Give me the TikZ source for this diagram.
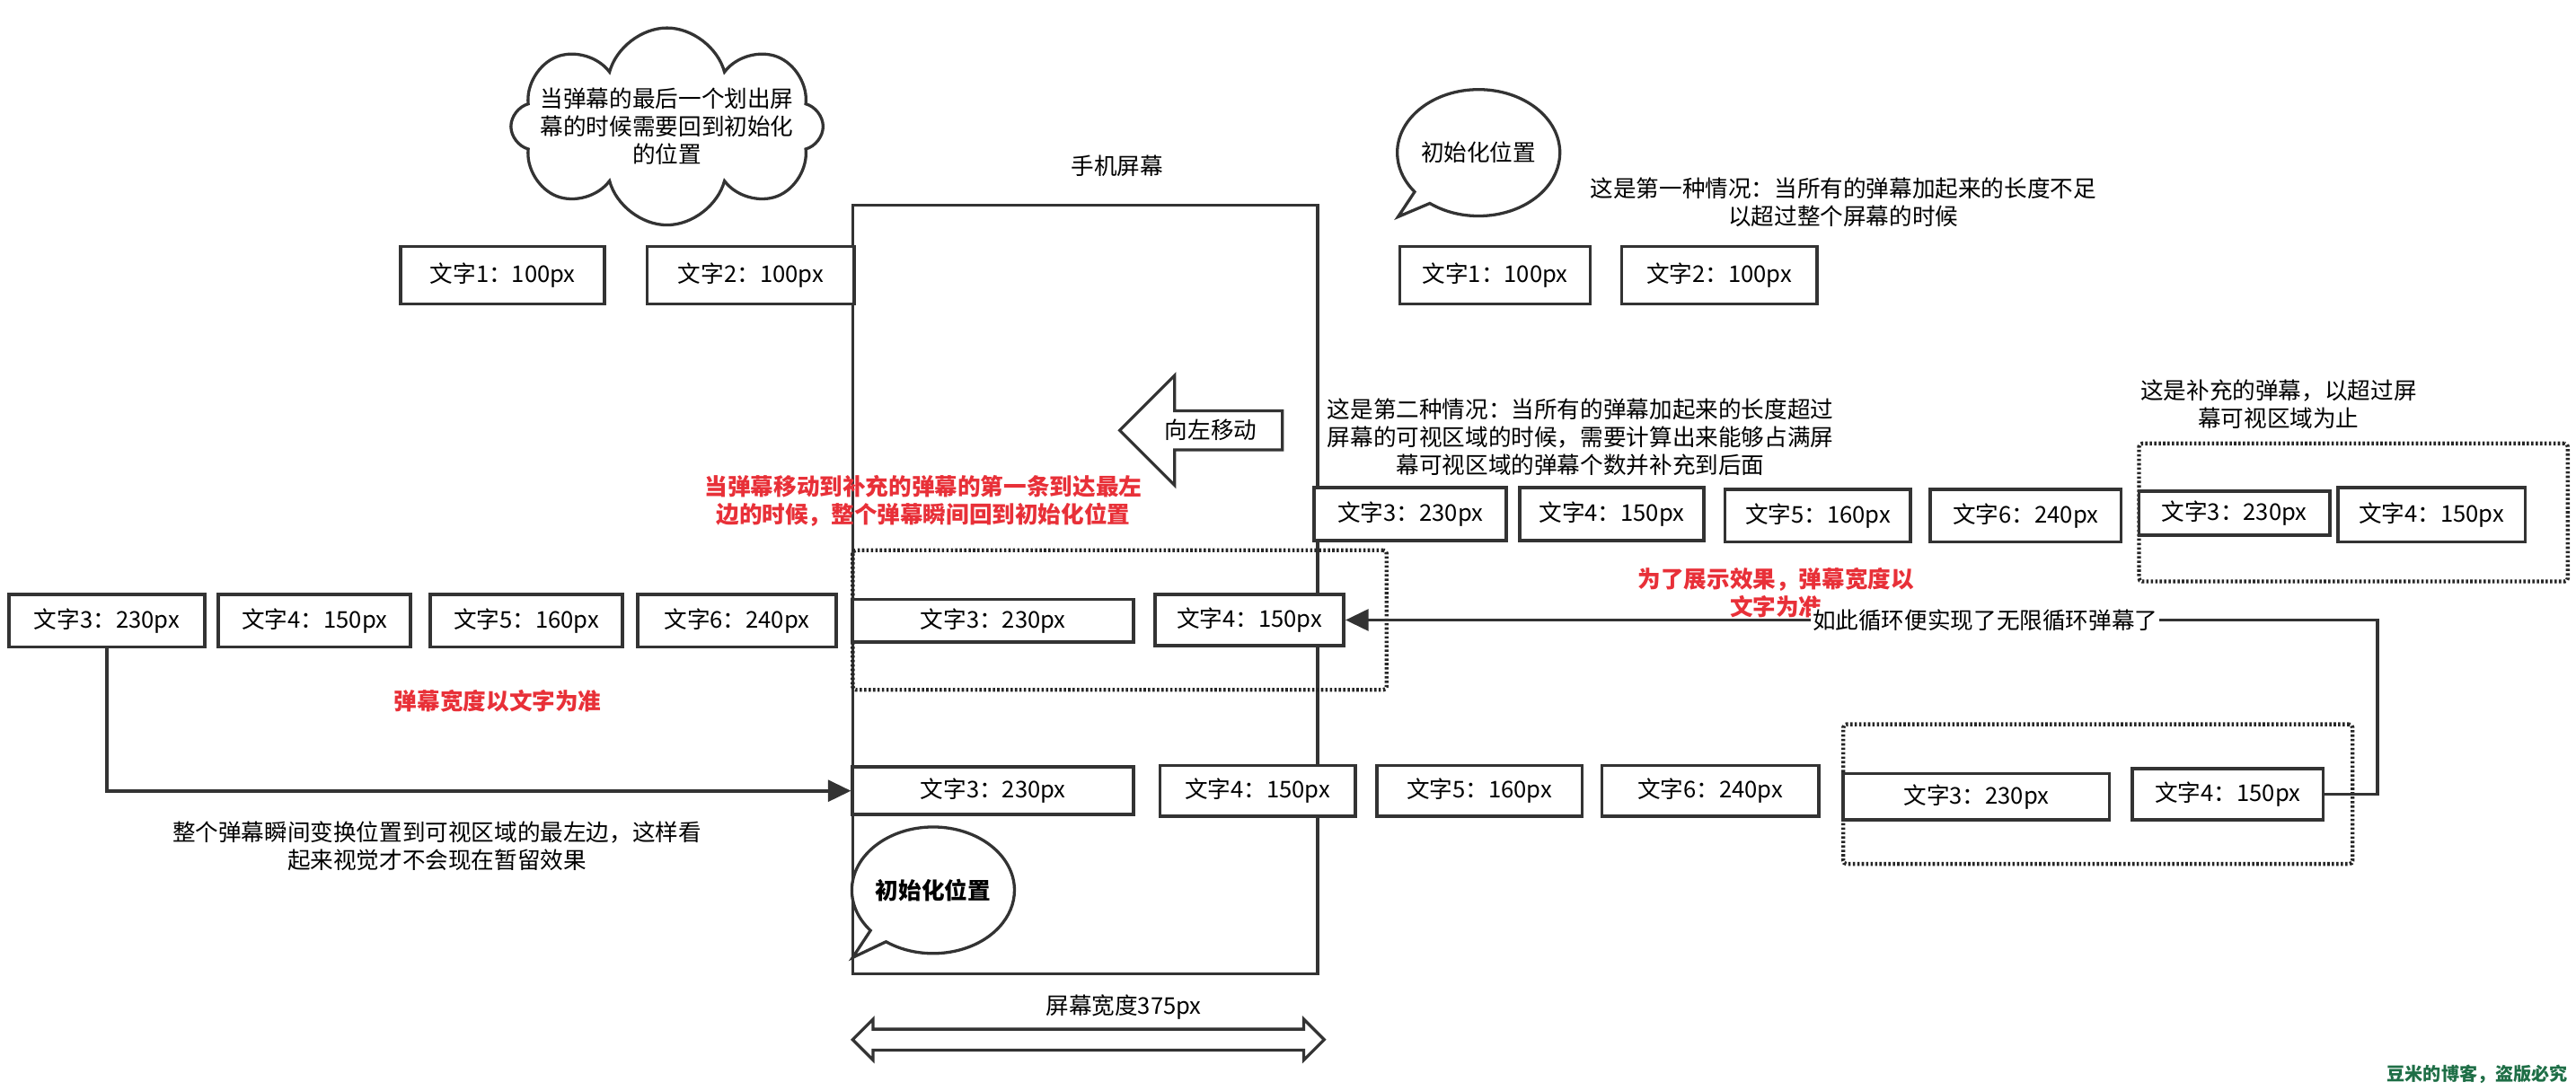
\documentclass[tikz,border=0pt]{standalone}
\usepackage{fontspec}
\setmainfont{Noto Sans CJK SC}
\usetikzlibrary{shapes.geometric, shapes.symbols, shapes.callouts, shapes.arrows, arrows.meta, positioning}
\definecolor{notered}{RGB}{232,48,56}
\definecolor{markgreen}{RGB}{30,110,70}

\begin{document}
\begin{tikzpicture}[x=1pt, y=-1pt, font=\fontsize{14}{17}\selectfont]
    % Node styles
    \tikzstyle{danmu} = [rectangle, draw=black!80, line width=2pt, fill=white, minimum height=32pt, inner sep=0pt]
    \tikzstyle{group} = [rectangle, draw=black!85, line width=2.4pt, dash pattern=on 1.4pt off 1.3pt, rounded corners=2pt, inner sep=0pt]
    \tikzstyle{note} = [align=center, inner sep=1pt]
    \tikzstyle{rednote} = [note, text=notered, font=\fontsize{14}{17}\selectfont\bfseries]
    \tikzstyle{bubble} = [ellipse callout, draw=black!80, line width=1.8pt, fill=white, minimum width=98pt, minimum height=77pt, inner sep=0pt]
    \tikzstyle{flowarrow} = [-{Triangle[length=14pt, width=13pt]}, line width=2pt, draw=black!80]

    \useasboundingbox (0,0) rectangle (1568,664);

    % Phone screen
    \node (screen) [draw=black!80, line width=1.8pt, minimum width=283pt, minimum height=468pt] at (660.5,359) {};
    \node (screentitle) [note] at (680,101) {手机屏幕};

    % Dotted groups
    \node (grpscreen) [group, minimum width=325pt, minimum height=85pt] at (681.5,377.5) {};
    \node (grpextra) [group, minimum width=261pt, minimum height=84pt] at (1432.5,312) {};
    \node (grpback) [group, minimum width=310pt, minimum height=85pt] at (1277,483.5) {};

    % Notes
    \node (cloudshape) [cloud, cloud puffs=8, aspect=1.55, draw=black!80, line width=1.8pt, minimum width=190pt, minimum height=120pt] at (406,77) {};
    \node (cloudtext) [note] at (cloudshape) {当弹幕的最后一个划出屏\\幕的时候需要回到初始化\\的位置};
    \node (initup) [bubble, callout absolute pointer={(851,132)}] at (900,93) {初始化位置};
    \node (caseone) [note] at (1122,123) {这是第一种情况：当所有的弹幕加起来的长度不足\\以超过整个屏幕的时候};
    \node (casetwo) [note] at (962,266) {这是第二种情况：当所有的弹幕加起来的长度超过\\屏幕的可视区域的时候，需要计算出来能够占满屏\\幕可视区域的弹幕个数并补充到后面};
    \node (extranote) [note] at (1387,246) {这是补充的弹幕，以超过屏\\幕可视区域为止};
    \node (moveleft) [single arrow, shape border rotate=180, draw=black!80, line width=1.8pt, fill=white, minimum height=99pt, single arrow head extend=21.5pt, inner ysep=4.5pt, inner xsep=2pt] at (737,262) {向左移动};
    \node (resetnote) [rednote] at (562,305) {当弹幕移动到补充的弹幕的第一条到达最左\\边的时候，整个弹幕瞬间回到初始化位置};
    \node (shownote) [rednote] at (1081,361) {为了展示效果，弹幕宽度以\\文字为准};
    \node (widthnote) [rednote] at (303,427) {弹幕宽度以文字为准};
    \node (jumpnote) [note] at (266,515) {整个弹幕瞬间变换位置到可视区域的最左边，这样看\\起来视觉才不会现在暂留效果};

    % Case one
    \node (l1) [danmu, minimum width=124pt, minimum height=35pt] at (306,167.5) {文字1：100px};
    \node (l2) [danmu, minimum width=126pt, minimum height=35pt] at (457,167.5) {文字2：100px};
    \node (r1) [danmu, minimum width=116pt, minimum height=35pt] at (910,167.5) {文字1：100px};
    \node (r2) [danmu, minimum width=119pt, minimum height=35pt] at (1046.5,167.5) {文字2：100px};

    % Case two
    \node (s3) [danmu, minimum width=117pt] at (858.5,313) {文字3：230px};
    \node (s4) [danmu, minimum width=112pt] at (981,313) {文字4：150px};
    \node (s5) [danmu, minimum width=113pt] at (1106.5,314) {文字5：160px};
    \node (s6) [danmu, minimum width=116pt] at (1233,314) {文字6：240px};
    \node (sa) [danmu, minimum width=116pt, minimum height=27pt] at (1360,312.5) {文字3：230px};
    \node (sb) [danmu, minimum width=114pt, minimum height=33pt] at (1480,313.5) {文字4：150px};

    % Moving row
    \node (p3) [danmu, minimum width=119pt] at (65,378) {文字3：230px};
    \node (p4) [danmu, minimum width=117pt] at (191.5,378) {文字4：150px};
    \node (p5) [danmu, minimum width=117pt] at (320.5,378) {文字5：160px};
    \node (p6) [danmu, minimum width=121pt] at (448.5,378) {文字6：240px};
    \node (q3) [danmu, minimum width=171pt, minimum height=26pt] at (604.5,378) {文字3：230px};
    \node (q4) [danmu, minimum width=115pt, minimum height=31pt] at (760.5,377.5) {文字4：150px};

    % Reset row
    \node (t3) [danmu, minimum width=171pt, minimum height=29pt] at (604.5,481.5) {文字3：230px};
    \node (t4) [danmu, minimum width=119pt, minimum height=31pt] at (765.5,481.5) {文字4：150px};
    \node (t5) [danmu, minimum width=125pt, minimum height=31pt] at (900.5,481.5) {文字5：160px};
    \node (t6) [danmu, minimum width=132pt, minimum height=31pt] at (1041,481.5) {文字6：240px};
    \node (ta) [danmu, minimum width=162pt, minimum height=28pt] at (1203,485) {文字3：230px};
    \node (tb) [danmu, minimum width=116pt, minimum height=31pt] at (1356,483.5) {文字4：150px};

    \node (initdown) [bubble, font=\fontsize{14}{17}\selectfont\bfseries, callout absolute pointer={(519,583)}] at (568,542) {初始化位置};

    % Screen width
    \node (widthbar) [double arrow, draw=black!80, line width=1.8pt, fill=white, minimum height=287pt, double arrow head extend=6pt, inner ysep=5.5pt, inner xsep=0pt] at (662.5,633) {};
    \node (widthlabel) [note] at (684,613) {屏幕宽度375px};

    % Arrows
    \draw[flowarrow] (p3.south) |- (t3.west);
    \draw[flowarrow] (tb.east) -- ++(32,0) |- node[pos=0.69, fill=white, inner sep=1pt] {如此循环便实现了无限循环弹幕了} (q4.east);

    \node (mark) [font=\fontsize{11}{13}\selectfont\bfseries, text=markgreen] at (1508,654) {豆米的博客，盗版必究};
\end{tikzpicture}
\end{document}
